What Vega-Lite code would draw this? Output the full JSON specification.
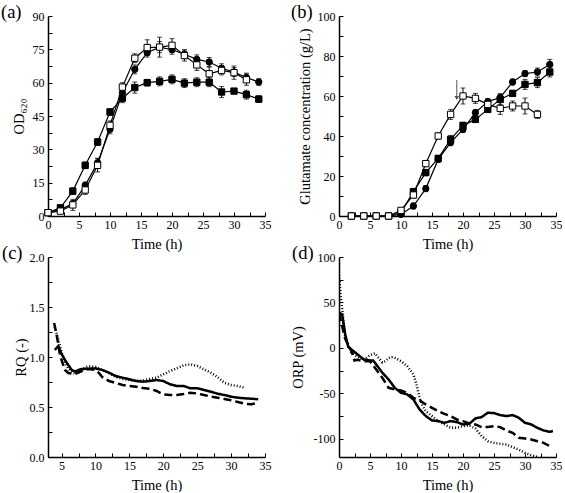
{
  "$schema": "https://vega.github.io/schema/vega-lite/v6.json",
  "padding": {"left": 1, "top": 2, "right": 0, "bottom": 0},
  "bounds": "flush",
  "spacing": {"row": 41, "column": 74},
  "columns": 2,
  "concat": [
        {
          "width": 217,
          "height": 200,
          "title": {"text": "(a)", "anchor": "start", "frame": "group", "dx": -47, "offset": 0, "baseline": "middle", "dy": 20},
          "data": {"values": [
            {"s":"A","t":0,"v":1.5,"e":0.6},{"s":"A","t":2,"v":3,"e":0.8},{"s":"A","t":4,"v":5.5,"e":1.5},{"s":"A","t":6,"v":13.8,"e":1.5},{"s":"A","t":8,"v":24,"e":2},{"s":"A","t":10,"v":39,"e":2},{"s":"A","t":12,"v":55.5,"e":2},{"s":"A","t":14,"v":66,"e":2},{"s":"A","t":16,"v":73.5,"e":2},{"s":"A","t":18,"v":76,"e":2.5},{"s":"A","t":20,"v":74.8,"e":2},{"s":"A","t":22,"v":72.8,"e":2},{"s":"A","t":24,"v":70.5,"e":2},{"s":"A","t":26,"v":69.3,"e":2},{"s":"A","t":28,"v":66.5,"e":2},{"s":"A","t":30,"v":64.8,"e":2},{"s":"A","t":32,"v":62.3,"e":2},{"s":"A","t":34,"v":60.3,"e":1.5},
            {"s":"B","t":0,"v":1.5,"e":0.6},{"s":"B","t":2,"v":3.7,"e":0.8},{"s":"B","t":4,"v":11.2,"e":1.5},{"s":"B","t":6,"v":22.8,"e":1.5},{"s":"B","t":8,"v":33.3,"e":1.5},{"s":"B","t":10,"v":46.8,"e":1.5},{"s":"B","t":12,"v":53,"e":2},{"s":"B","t":14,"v":57.8,"e":2.5},{"s":"B","t":16,"v":60,"e":1.5},{"s":"B","t":18,"v":60.6,"e":2},{"s":"B","t":20,"v":61.5,"e":2},{"s":"B","t":22,"v":59.8,"e":2},{"s":"B","t":24,"v":60.2,"e":2},{"s":"B","t":26,"v":60.2,"e":2},{"s":"B","t":28,"v":55.8,"e":2.5},{"s":"B","t":30,"v":56.2,"e":1},{"s":"B","t":32,"v":54.6,"e":2},{"s":"B","t":34,"v":52.6,"e":1.5},
            {"s":"C","t":0,"v":1.5,"e":0.6},{"s":"C","t":2,"v":2.2,"e":0.8},{"s":"C","t":4,"v":5,"e":2.5},{"s":"C","t":6,"v":11.7,"e":2},{"s":"C","t":8,"v":22.8,"e":3},{"s":"C","t":10,"v":40.8,"e":2},{"s":"C","t":12,"v":58,"e":2},{"s":"C","t":14,"v":71,"e":2},{"s":"C","t":16,"v":75.8,"e":3.5},{"s":"C","t":18,"v":76,"e":4.5},{"s":"C","t":20,"v":76.8,"e":3},{"s":"C","t":22,"v":72.2,"e":2.5},{"s":"C","t":24,"v":68,"e":2.5},{"s":"C","t":26,"v":64,"e":3},{"s":"C","t":28,"v":65.5,"e":2},{"s":"C","t":30,"v":64.5,"e":3},{"s":"C","t":32,"v":61.3,"e":2.5}
          ]},
          "encoding": {
            "x": {"field": "t", "type": "quantitative", "scale": {"domain": [0, 35], "nice": false},
                  "axis": {"title": "Time (h)", "values": [0,2.5,5,7.5,10,12.5,15,17.5,20,22.5,25,27.5,30,32.5,35], "labelExpr": "datum.value % 5 == 0 ? datum.label : ''"}},
            "y": {"field": "v", "type": "quantitative", "scale": {"domain": [0, 90], "nice": false},
                  "axis": {"title": "OD₆₂₀", "titlePadding": 6, "values": [0,7.5,15,22.5,30,37.5,45,52.5,60,67.5,75,82.5,90], "labelExpr": "datum.value % 15 == 0 ? datum.label : ''"}}
          },
          "layer": [
            {"mark": {"type": "line", "color": "black", "strokeWidth": 1.2}, "encoding": {"detail": {"field": "s"}}},
            {"mark": {"type": "errorbar", "ticks": {"size": 5, "color": "black"}, "rule": {"color": "black", "strokeWidth": 1}}, "encoding": {"yError": {"field": "e"}}},
            {"mark": {"type": "point", "filled": true, "stroke": "black", "strokeWidth": 1, "size": 40, "opacity": 1},
             "encoding": {
               "shape": {"field": "s", "type": "nominal", "scale": {"domain": ["A","B","C"], "range": ["circle","square","square"]}, "legend": null},
               "fill": {"field": "s", "type": "nominal", "scale": {"domain": ["A","B","C"], "range": ["black","black","white"]}, "legend": null}
             }}
          ]
        },
        {
          "width": 217,
          "height": 200,
          "title": {"text": "(b)", "anchor": "start", "frame": "group", "dx": -48, "offset": 0, "baseline": "middle", "dy": 20},
          "data": {"values": [
            {"s":"A","t":2,"v":0,"e":0.5},{"s":"A","t":4,"v":0,"e":0.5},{"s":"A","t":6,"v":0,"e":0.5},{"s":"A","t":8,"v":0,"e":0.5},{"s":"A","t":10,"v":0.8,"e":0.8},{"s":"A","t":12,"v":5,"e":1.5},{"s":"A","t":14,"v":13.7,"e":1.5},{"s":"A","t":16,"v":28.3,"e":1.5},{"s":"A","t":18,"v":36.7,"e":1.5},{"s":"A","t":20,"v":43.3,"e":1.5},{"s":"A","t":22,"v":51.7,"e":1.5},{"s":"A","t":24,"v":57.2,"e":1.5},{"s":"A","t":26,"v":59.2,"e":2},{"s":"A","t":28,"v":67,"e":1.5},{"s":"A","t":30,"v":71.2,"e":1.5},{"s":"A","t":32,"v":72,"e":2},{"s":"A","t":34,"v":75.8,"e":2.5},
            {"s":"B","t":2,"v":0,"e":0.5},{"s":"B","t":4,"v":0,"e":0.5},{"s":"B","t":6,"v":0,"e":0.5},{"s":"B","t":8,"v":0,"e":0.5},{"s":"B","t":10,"v":1.7,"e":0.8},{"s":"B","t":12,"v":12.2,"e":1.5},{"s":"B","t":14,"v":21.7,"e":1.5},{"s":"B","t":16,"v":28.8,"e":1.5},{"s":"B","t":18,"v":38.3,"e":2},{"s":"B","t":20,"v":45.3,"e":1.5},{"s":"B","t":22,"v":48.3,"e":1.5},{"s":"B","t":24,"v":53.3,"e":1.5},{"s":"B","t":26,"v":58.3,"e":2.5},{"s":"B","t":28,"v":61.3,"e":1.5},{"s":"B","t":30,"v":65.8,"e":2.5},{"s":"B","t":32,"v":66.7,"e":2.5},{"s":"B","t":34,"v":72,"e":2.5},
            {"s":"C","t":2,"v":0,"e":0.5},{"s":"C","t":4,"v":0,"e":0.5},{"s":"C","t":6,"v":0,"e":0.5},{"s":"C","t":8,"v":0,"e":0.5},{"s":"C","t":10,"v":2.8,"e":1},{"s":"C","t":12,"v":10.5,"e":1.5},{"s":"C","t":14,"v":26.2,"e":1.5},{"s":"C","t":16,"v":40,"e":1.5},{"s":"C","t":18,"v":50.8,"e":2.5},{"s":"C","t":20,"v":60,"e":4},{"s":"C","t":22,"v":58.8,"e":2.5},{"s":"C","t":24,"v":55.8,"e":1.5},{"s":"C","t":26,"v":53.8,"e":3},{"s":"C","t":28,"v":55,"e":2.5},{"s":"C","t":30,"v":55,"e":4},{"s":"C","t":32,"v":50.8,"e":2}
          ]},
          "encoding": {
            "x": {"field": "t", "type": "quantitative", "scale": {"domain": [0, 35], "nice": false},
                  "axis": {"title": "Time (h)", "values": [0,2.5,5,7.5,10,12.5,15,17.5,20,22.5,25,27.5,30,32.5,35], "labelExpr": "datum.value % 5 == 0 ? datum.label : ''"}},
            "y": {"field": "v", "type": "quantitative", "scale": {"domain": [0, 100], "nice": false},
                  "axis": {"title": "Glutamate concentration (g/L)", "titlePadding": 5, "values": [0,10,20,30,40,50,60,70,80,90,100], "labelExpr": "datum.value % 20 == 0 ? datum.label : ''"}}
          },
          "layer": [
            {"mark": {"type": "line", "color": "black", "strokeWidth": 1.2}, "encoding": {"detail": {"field": "s"}}},
            {"mark": {"type": "errorbar", "ticks": {"size": 5, "color": "black"}, "rule": {"color": "black", "strokeWidth": 1}}, "encoding": {"yError": {"field": "e"}}},
            {"mark": {"type": "point", "filled": true, "stroke": "black", "strokeWidth": 1, "size": 40, "opacity": 1},
             "encoding": {
               "shape": {"field": "s", "type": "nominal", "scale": {"domain": ["A","B","C"], "range": ["circle","square","square"]}, "legend": null},
               "fill": {"field": "s", "type": "nominal", "scale": {"domain": ["A","B","C"], "range": ["black","black","white"]}, "legend": null}
             }},
            {"data": {"values": [{"t": 19, "v": 68, "v2": 59}]},
             "mark": {"type": "rule", "color": "#555555", "strokeWidth": 1},
             "encoding": {"y2": {"field": "v2"}}},
            {"data": {"values": [{"t": 19, "v": 59}]},
             "mark": {"type": "point", "shape": "triangle-down", "filled": true, "color": "#555555", "size": 22, "opacity": 1},
             "encoding": {}}
          ]
        },
        {
          "width": 217,
          "height": 200,
          "title": {"text": "(c)", "anchor": "start", "frame": "group", "dx": -46, "offset": 0, "baseline": "middle", "dy": 20},
          "data": {"values": [
            {"s":"solid","t":4,"v":1.07},{"s":"solid","t":4.5,"v":1.11},{"s":"solid","t":5,"v":1.03},{"s":"solid","t":5.5,"v":0.97},{"s":"solid","t":6,"v":0.92},{"s":"solid","t":6.5,"v":0.87},{"s":"solid","t":7,"v":0.855},{"s":"solid","t":7.5,"v":0.87},{"s":"solid","t":8,"v":0.88},{"s":"solid","t":9,"v":0.883},{"s":"solid","t":10,"v":0.887},{"s":"solid","t":11,"v":0.87},{"s":"solid","t":12,"v":0.843},{"s":"solid","t":13,"v":0.81},{"s":"solid","t":14,"v":0.793},{"s":"solid","t":15,"v":0.777},{"s":"solid","t":16,"v":0.76},{"s":"solid","t":17,"v":0.753},{"s":"solid","t":18,"v":0.76},{"s":"solid","t":19,"v":0.77},{"s":"solid","t":20,"v":0.76},{"s":"solid","t":21,"v":0.727},{"s":"solid","t":22,"v":0.71},{"s":"solid","t":23,"v":0.71},{"s":"solid","t":24,"v":0.687},{"s":"solid","t":25,"v":0.687},{"s":"solid","t":26,"v":0.67},{"s":"solid","t":27,"v":0.653},{"s":"solid","t":28,"v":0.633},{"s":"solid","t":29,"v":0.62},{"s":"solid","t":30,"v":0.603},{"s":"solid","t":31,"v":0.593},{"s":"solid","t":32,"v":0.587},{"s":"solid","t":33,"v":0.583},{"s":"solid","t":34,"v":0.577},
            {"s":"dashed","t":3.9,"v":1.34},{"s":"dashed","t":4.3,"v":1.21},{"s":"dashed","t":4.8,"v":1.01},{"s":"dashed","t":5.5,"v":0.87},{"s":"dashed","t":6,"v":0.84},{"s":"dashed","t":7,"v":0.83},{"s":"dashed","t":8,"v":0.86},{"s":"dashed","t":9,"v":0.88},{"s":"dashed","t":10,"v":0.87},{"s":"dashed","t":10.5,"v":0.84},{"s":"dashed","t":11,"v":0.8},{"s":"dashed","t":12,"v":0.76},{"s":"dashed","t":13,"v":0.74},{"s":"dashed","t":14,"v":0.72},{"s":"dashed","t":15,"v":0.71},{"s":"dashed","t":16,"v":0.703},{"s":"dashed","t":17,"v":0.69},{"s":"dashed","t":18,"v":0.683},{"s":"dashed","t":19,"v":0.66},{"s":"dashed","t":20,"v":0.627},{"s":"dashed","t":21,"v":0.62},{"s":"dashed","t":22,"v":0.62},{"s":"dashed","t":23,"v":0.63},{"s":"dashed","t":24,"v":0.643},{"s":"dashed","t":25,"v":0.635},{"s":"dashed","t":26,"v":0.62},{"s":"dashed","t":27,"v":0.605},{"s":"dashed","t":28,"v":0.593},{"s":"dashed","t":29,"v":0.58},{"s":"dashed","t":30,"v":0.567},{"s":"dashed","t":31,"v":0.55},{"s":"dashed","t":32,"v":0.533},{"s":"dashed","t":33,"v":0.527},{"s":"dashed","t":34,"v":0.543},
            {"s":"dotted","t":4,"v":1.3},{"s":"dotted","t":4.5,"v":1.18},{"s":"dotted","t":5,"v":1.05},{"s":"dotted","t":5.5,"v":0.95},{"s":"dotted","t":6,"v":0.88},{"s":"dotted","t":7,"v":0.83},{"s":"dotted","t":8,"v":0.88},{"s":"dotted","t":9,"v":0.91},{"s":"dotted","t":10,"v":0.9},{"s":"dotted","t":11,"v":0.87},{"s":"dotted","t":12,"v":0.84},{"s":"dotted","t":13,"v":0.8},{"s":"dotted","t":14,"v":0.78},{"s":"dotted","t":15,"v":0.77},{"s":"dotted","t":16,"v":0.76},{"s":"dotted","t":17,"v":0.765},{"s":"dotted","t":18,"v":0.78},{"s":"dotted","t":19,"v":0.793},{"s":"dotted","t":20,"v":0.827},{"s":"dotted","t":21,"v":0.86},{"s":"dotted","t":22,"v":0.887},{"s":"dotted","t":23,"v":0.917},{"s":"dotted","t":24,"v":0.927},{"s":"dotted","t":25,"v":0.91},{"s":"dotted","t":26,"v":0.877},{"s":"dotted","t":27,"v":0.843},{"s":"dotted","t":28,"v":0.8},{"s":"dotted","t":29,"v":0.743},{"s":"dotted","t":30,"v":0.72},{"s":"dotted","t":31,"v":0.71},{"s":"dotted","t":32,"v":0.693}
          ]},
          "mark": {"type": "line", "color": "black"},
          "encoding": {
            "x": {"field": "t", "type": "quantitative", "scale": {"domain": [3, 35], "nice": false, "zero": false},
                  "axis": {"title": "Time (h)", "values": [5,7.5,10,12.5,15,17.5,20,22.5,25,27.5,30,32.5,35], "labelExpr": "datum.value % 5 == 0 ? datum.label : ''"}},
            "y": {"field": "v", "type": "quantitative", "scale": {"domain": [0, 2], "nice": false},
                  "axis": {"title": "RQ (-)", "titlePadding": 1, "values": [0,0.25,0.5,0.75,1,1.25,1.5,1.75,2], "labelExpr": "datum.value % 0.5 == 0 ? format(datum.value, '.1f') : ''"}},
            "detail": {"field": "s"},
            "strokeDash": {"field": "s", "type": "nominal", "scale": {"domain": ["solid","dashed","dotted"], "range": [[1,0],[8,4],[1,2]]}, "legend": null},
            "strokeWidth": {"field": "s", "type": "nominal", "scale": {"domain": ["solid","dashed","dotted"], "range": [2.5,2.5,1]}, "legend": null}
          }
        },
        {
          "width": 217,
          "height": 200,
          "title": {"text": "(d)", "anchor": "start", "frame": "group", "dx": -47, "offset": 0, "baseline": "middle", "dy": 20},
          "data": {"values": [
            {"s":"solid","t":0,"v":38.7},{"s":"solid","t":0.5,"v":36.8},{"s":"solid","t":1,"v":15},{"s":"solid","t":1.5,"v":1},{"s":"solid","t":2,"v":-1.7},{"s":"solid","t":3,"v":-7.2},{"s":"solid","t":4,"v":-12.7},{"s":"solid","t":5,"v":-13.8},{"s":"solid","t":5.5,"v":-13.8},{"s":"solid","t":6,"v":-18.2},{"s":"solid","t":7,"v":-27.4},{"s":"solid","t":8,"v":-34.7},{"s":"solid","t":9,"v":-43.9},{"s":"solid","t":10,"v":-49.4},{"s":"solid","t":11,"v":-51.2},{"s":"solid","t":12,"v":-56.7},{"s":"solid","t":13,"v":-67.7},{"s":"solid","t":14,"v":-75},{"s":"solid","t":15,"v":-79.8},{"s":"solid","t":16,"v":-80.5},{"s":"solid","t":17,"v":-82.4},{"s":"solid","t":18,"v":-80.5},{"s":"solid","t":19,"v":-81.6},{"s":"solid","t":20,"v":-84.2},{"s":"solid","t":21,"v":-83.5},{"s":"solid","t":22,"v":-77.6},{"s":"solid","t":23,"v":-76.1},{"s":"solid","t":24,"v":-71.3},{"s":"solid","t":25,"v":-71.7},{"s":"solid","t":26,"v":-73.9},{"s":"solid","t":27,"v":-75},{"s":"solid","t":28,"v":-73.9},{"s":"solid","t":29,"v":-76.8},{"s":"solid","t":30,"v":-82.4},{"s":"solid","t":31,"v":-84.2},{"s":"solid","t":32,"v":-87.9},{"s":"solid","t":33,"v":-90.8},{"s":"solid","t":34,"v":-92.3},{"s":"solid","t":34.5,"v":-91.5},
            {"s":"dashed","t":0,"v":38},{"s":"dashed","t":1,"v":10},{"s":"dashed","t":2,"v":-3.5},{"s":"dashed","t":2.5,"v":-13.8},{"s":"dashed","t":3,"v":-13},{"s":"dashed","t":4,"v":-14.6},{"s":"dashed","t":5,"v":-14.6},{"s":"dashed","t":6,"v":-23.8},{"s":"dashed","t":7,"v":-33},{"s":"dashed","t":8,"v":-43.9},{"s":"dashed","t":9,"v":-45.7},{"s":"dashed","t":10,"v":-46.8},{"s":"dashed","t":11,"v":-49.4},{"s":"dashed","t":12,"v":-54.9},{"s":"dashed","t":13,"v":-57.8},{"s":"dashed","t":14,"v":-62.2},{"s":"dashed","t":15,"v":-65.9},{"s":"dashed","t":16,"v":-69.6},{"s":"dashed","t":17,"v":-72.5},{"s":"dashed","t":18,"v":-75},{"s":"dashed","t":19,"v":-78.7},{"s":"dashed","t":20,"v":-80.5},{"s":"dashed","t":21,"v":-83},{"s":"dashed","t":22,"v":-84.2},{"s":"dashed","t":23,"v":-87.1},{"s":"dashed","t":24,"v":-87.1},{"s":"dashed","t":25,"v":-86},{"s":"dashed","t":26,"v":-87.1},{"s":"dashed","t":27,"v":-90.8},{"s":"dashed","t":28,"v":-93.4},{"s":"dashed","t":29,"v":-98.9},{"s":"dashed","t":30,"v":-99.6},{"s":"dashed","t":31,"v":-100.7},{"s":"dashed","t":32,"v":-102.6},{"s":"dashed","t":33,"v":-104.4},{"s":"dashed","t":34,"v":-108.1},
            {"s":"dotted","t":0,"v":80},{"s":"dotted","t":0.3,"v":55},{"s":"dotted","t":0.6,"v":38},{"s":"dotted","t":1,"v":12},{"s":"dotted","t":2,"v":-5},{"s":"dotted","t":3,"v":-10},{"s":"dotted","t":4,"v":-13},{"s":"dotted","t":5,"v":-8},{"s":"dotted","t":5.8,"v":-6},{"s":"dotted","t":6.5,"v":-12},{"s":"dotted","t":7,"v":-16},{"s":"dotted","t":7.5,"v":-14.6},{"s":"dotted","t":8,"v":-11},{"s":"dotted","t":8.5,"v":-10.2},{"s":"dotted","t":9,"v":-11},{"s":"dotted","t":10,"v":-14.6},{"s":"dotted","t":11,"v":-20},{"s":"dotted","t":12,"v":-29},{"s":"dotted","t":12.5,"v":-40},{"s":"dotted","t":13,"v":-55},{"s":"dotted","t":13.5,"v":-64},{"s":"dotted","t":14,"v":-69.6},{"s":"dotted","t":15,"v":-75},{"s":"dotted","t":16,"v":-80.5},{"s":"dotted","t":17,"v":-84.2},{"s":"dotted","t":18,"v":-87.9},{"s":"dotted","t":19,"v":-87.9},{"s":"dotted","t":20,"v":-86},{"s":"dotted","t":21,"v":-85.3},{"s":"dotted","t":22,"v":-88.6},{"s":"dotted","t":23,"v":-97},{"s":"dotted","t":24,"v":-102.6},{"s":"dotted","t":25,"v":-104.4},{"s":"dotted","t":26,"v":-105.5},{"s":"dotted","t":27,"v":-106.3},{"s":"dotted","t":28,"v":-109.2},{"s":"dotted","t":29,"v":-111.8},{"s":"dotted","t":30,"v":-115.4},{"s":"dotted","t":31,"v":-118},{"s":"dotted","t":32,"v":-120}
          ]},
          "mark": {"type": "line", "color": "black", "clip": true},
          "encoding": {
            "x": {"field": "t", "type": "quantitative", "scale": {"domain": [0, 35], "nice": false},
                  "axis": {"title": "Time (h)", "values": [0,2.5,5,7.5,10,12.5,15,17.5,20,22.5,25,27.5,30,32.5,35], "labelExpr": "datum.value % 5 == 0 ? datum.label : ''"}},
            "y": {"field": "v", "type": "quantitative", "scale": {"domain": [-120, 100], "nice": false},
                  "axis": {"title": "ORP (mV)", "titlePadding": 8, "values": [-100,-75,-50,-25,0,25,50,75,100], "labelExpr": "datum.value % 50 == 0 ? '' + datum.value : ''"}},
            "detail": {"field": "s"},
            "strokeDash": {"field": "s", "type": "nominal", "scale": {"domain": ["solid","dashed","dotted"], "range": [[1,0],[8,4],[1,2]]}, "legend": null},
            "strokeWidth": {"field": "s", "type": "nominal", "scale": {"domain": ["solid","dashed","dotted"], "range": [2.5,2.5,1]}, "legend": null}
          }
        }
  ],
  "config": {
    "view": {"stroke": null},
    "font": "Liberation Serif",
    "title": {"font": "Liberation Serif", "fontSize": 18.5, "fontWeight": "normal", "color": "black"},
    "axis": {
      "grid": false,
      "domainColor": "black",
      "domainWidth": 1.5,
      "tickColor": "black",
      "tickWidth": 1,
      "tickSize": -4,
      "labelColor": "black",
      "labelFont": "Liberation Serif",
      "labelFontSize": 12,
      "labelOverlap": false,
      "labelFlush": false,
      "titleFont": "Liberation Serif",
      "titleFontSize": 14.5,
      "titleFontWeight": "normal",
      "titleColor": "black"
    },
    "axisX": {"labelPadding": 7, "titlePadding": 7},
    "axisY": {"labelPadding": 8}
  }
}
